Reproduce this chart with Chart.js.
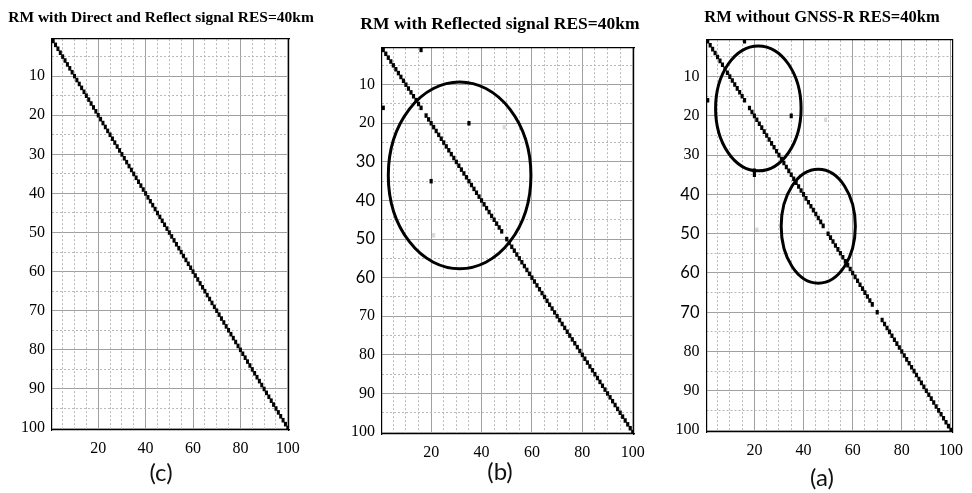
<!DOCTYPE html>
<html>
<head>
<meta charset="utf-8">
<title>Resolution matrices RES=40km</title>
<script src="https://cdn.jsdelivr.net/npm/chart.js@4.4.1/dist/chart.umd.min.js"></script>
<style>
	body { margin: 0; background: #fff; }
	#wrap { position: relative; width: 972px; height: 493px; overflow: hidden; }
	.panel { position: absolute; top: 0; height: 493px; }
</style>
</head>
<body>
<div id="wrap">
	<div class="panel" style="left:0;width:322px"><canvas id="rmC"></canvas></div>
	<div class="panel" style="left:340px;width:320px"><canvas id="rmB"></canvas></div>
	<div class="panel" style="left:672px;width:300px"><canvas id="rmA"></canvas></div>
</div>
<script>
// Matrix size (rows = columns = N)
const N = 100;

// Axis ticks
const xTicks = [20, 40, 60, 80, 100];
const yTicks = [10, 20, 30, 40, 50, 60, 70, 80, 90, 100];
const xMinor = [5, 10, 15, 25, 30, 35, 45, 50, 55, 65, 70, 75, 85, 90, 95];
const yMinor = [5, 15, 25, 35, 45, 55, 65, 75, 85, 95];

// Diagonal is 1 everywhere except these rows
const diagGapsC = [];
const diagGapsB = [17, 49];
const diagGapsA = [17, 49, 69, 71];

// Off-diagonal entries: [row, column, value]
const offDiagC = [];
const offDiagB = [[1, 16, 1], [16, 1, 1], [20, 35, 1], [35, 20, 1], [21, 49, 0.15], [49, 21, 0.15]];
const offDiagA = [[1, 16, 1], [16, 1, 1], [20, 35, 1], [34, 20, 1], [35, 20, 1], [21, 49, 0.15], [49, 21, 0.15]];

// Marked regions: [centre column, centre row, half width, half height]
const ringsC = [];
const ringsB = [[31.3, 33.5, 28.3, 24.2]];
const ringsA = [[21.6, 18.1, 17.4, 15.9], [46.0, 48.1, 15.1, 14.5]];

// Y tick labels that were set in a sans face
const sansRowsC = [];
const sansRowsB = [30, 40, 50, 60];
const sansRowsA = [40, 50, 60, 70];

const SERIF = "'Liberation Serif', 'Times New Roman', serif";
const SANS = "Lato, 'Noto Sans', sans-serif";

// One floating bar per matrix cell, spanning row-0.5 .. row+0.5
function buildCells(gaps, offDiag) {
	const cells = [];
	for (let i = 1; i <= N; i++) {
		if (!gaps.includes(i)) cells.push({ x: i, y: [i - 0.5, i + 0.5], v: 1 });
	}
	offDiag.forEach(([r, c, v]) => cells.push({ x: c, y: [r - 0.5, r + 0.5], v: v }));
	return cells;
}

function shade(v) {
	const g = Math.round(255 * (1 - v));
	return 'rgb(' + g + ',' + g + ',' + g + ')';
}

function setTicks(list) {
	return axis => { axis.ticks = list.map(v => ({ value: v })); };
}

function makePanel(id, p) {
	const serif = { family: SERIF, size: 16 };
	const sans = { family: SANS, size: 16.5 };

	// ellipses drawn over the cells
	const rings = {
		id: 'rings',
		afterDatasetsDraw(chart) {
			const { ctx, scales: { x, y } } = chart;
			ctx.save();
			ctx.lineWidth = 3;
			ctx.strokeStyle = '#000';
			p.rings.forEach(([cx, cy, rx, ry]) => {
				const px = x.getPixelForValue(cx);
				const py = y.getPixelForValue(cy);
				ctx.beginPath();
				ctx.ellipse(px, py,
					Math.abs(x.getPixelForValue(cx + rx) - px),
					Math.abs(y.getPixelForValue(cy + ry) - py),
					0, 0, Math.PI * 2);
				ctx.stroke();
			});
			ctx.restore();
		}
	};

	return new Chart(document.getElementById(id), {
		type: 'bar',
		data: {
			datasets: [{
				data: buildCells(p.gaps, p.offDiag),
				backgroundColor: c => shade(c.raw.v),
				borderWidth: 0,
				barPercentage: 1,
				categoryPercentage: 1
			}]
		},
		options: {
			responsive: true,
			maintainAspectRatio: false,
			animation: false,
			layout: { padding: { left: 0, right: 0, top: 0, bottom: p.bottom } },
			plugins: {
				legend: { display: false },
				tooltip: { enabled: false },
				title: {
					display: true,
					text: p.title,
					color: '#000',
					font: { family: SERIF, size: p.titleSize, weight: 'bold' },
					padding: { top: p.titlePad[0], bottom: p.titlePad[1] }
				},
				subtitle: {
					display: true,
					position: 'bottom',
					text: p.label,
					color: '#111',
					font: { family: SANS, size: 24, lineHeight: 1 },
					padding: { top: p.subPad, bottom: 0 }
				}
			},
			scales: {
				x: {
					type: 'linear',
					position: 'bottom',
					offset: false,
					min: 0.5,
					max: 100.5,
					afterBuildTicks: setTicks(xTicks),
					afterFit: a => { a.height = p.xAxisH; },
					ticks: { autoSkip: false, maxRotation: 0, padding: 9, color: '#000', font: serif, callback: v => v },
					grid: { color: '#a0a0a0', drawTicks: false, offset: false },
					border: { color: '#000', width: 1.2 }
				},
				y: {
					type: 'linear',
					position: 'left',
					reverse: true,
					min: 0.5,
					max: 100.5,
					afterBuildTicks: setTicks(yTicks),
					afterFit: a => { a.width = p.yAxisW; },
					ticks: {
						autoSkip: false,
						padding: 7,
						color: '#000',
						callback: v => v,
						font: c => (c.tick && p.sansRows.includes(c.tick.value)) ? sans : serif
					},
					grid: { color: '#a0a0a0', drawTicks: false },
					border: { color: '#000', width: 1.2 }
				},
				// minor grid (dotted) and the top/right frame
				x2: {
					type: 'linear',
					position: 'top',
					offset: false,
					min: 0.5,
					max: 100.5,
					afterBuildTicks: setTicks(xMinor),
					afterFit: a => { a.height = 0; },
					ticks: { display: false },
					grid: { color: '#b8b8b8', drawTicks: false, offset: false },
					border: { color: '#000', width: 1.2, dash: [2, 2] }
				},
				y2: {
					type: 'linear',
					position: 'right',
					reverse: true,
					min: 0.5,
					max: 100.5,
					afterBuildTicks: setTicks(yMinor),
					afterFit: a => { a.width = p.y2W; },
					ticks: { display: false },
					grid: { color: '#b8b8b8', drawTicks: false },
					border: { color: '#000', width: 1.2, dash: [2, 2] }
				}
			}
		},
		plugins: [rings]
	});
}

document.addEventListener('DOMContentLoaded', function() {
	makePanel('rmC', {
		title: 'RM with Direct and Reflect signal RES=40km', label: '(c)',
		titleSize: 15.5, titlePad: [8.7, 11.7],
		yAxisW: 52, y2W: 33, xAxisH: 28, subPad: 3, bottom: 8,
		gaps: diagGapsC, offDiag: offDiagC, rings: ringsC, sansRows: sansRowsC
	});
	makePanel('rmB', {
		title: 'RM with Reflected signal RES=40km', label: '(b)',
		titleSize: 17.5, titlePad: [13.5, 13.5],
		yAxisW: 42, y2W: 26, xAxisH: 26, subPad: 0, bottom: 9,
		gaps: diagGapsB, offDiag: offDiagB, rings: ringsB, sansRows: sansRowsB
	});
	makePanel('rmA', {
		title: 'RM without GNSS-R RES=40km', label: '(a)',
		titleSize: 16.5, titlePad: [8.1, 11.4],
		yAxisW: 34.5, y2W: 16, xAxisH: 28, subPad: 6, bottom: 3,
		gaps: diagGapsA, offDiag: offDiagA, rings: ringsA, sansRows: sansRowsA
	});
});
</script>
</body>
</html>
